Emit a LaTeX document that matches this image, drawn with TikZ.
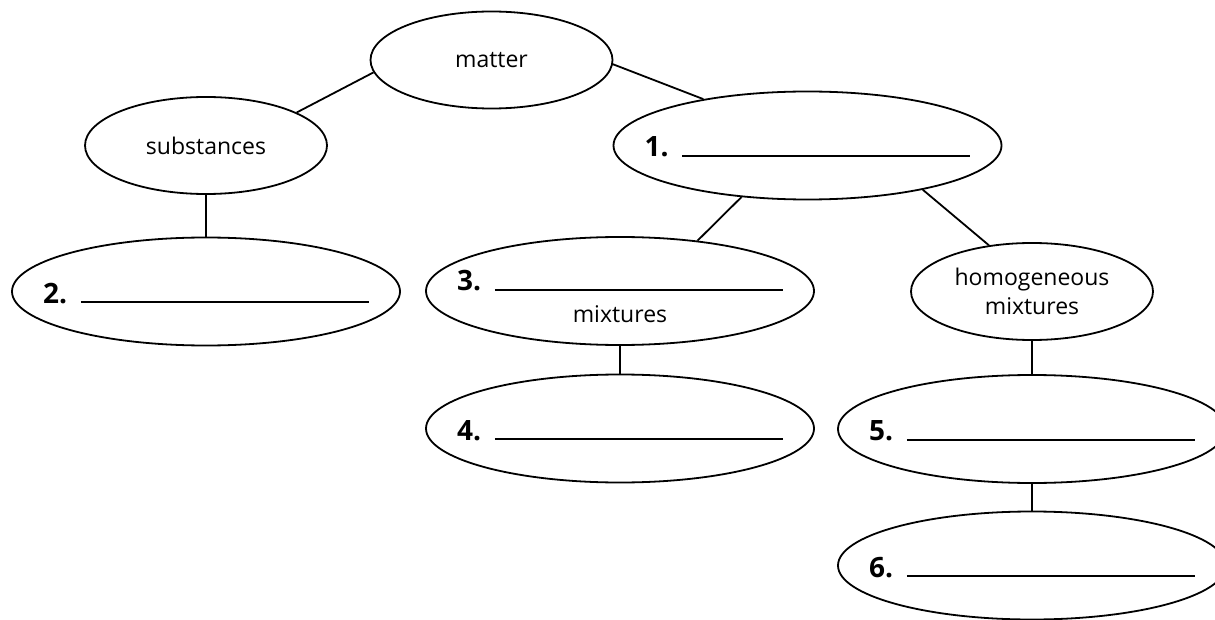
\documentclass[tikz,border=0pt]{standalone}
\usepackage{fontspec}
\setmainfont{Open Sans}
\usetikzlibrary{shapes.geometric}
\newcommand{\answerline}[1]{\makebox[0pt]{\textbf{\fontsize{14pt}{16pt}\selectfont #1}\hspace{7pt}\rule{144pt}{0.8pt}}}
\tikzset{
  smallbubble/.style={draw, ellipse, line width=0.9pt, inner sep=0pt, minimum width=121pt, minimum height=48.5pt, align=center},
  bigbubble/.style={draw, ellipse, line width=0.9pt, inner sep=0pt, minimum width=194pt, minimum height=54pt, text height=11.5pt, text depth=0pt},
  link/.style={line width=0.9pt}
}
\begin{document}
\begin{tikzpicture}[x=0.5pt,y=-0.5pt,font=\fontsize{11.5pt}{14.5pt}\selectfont]
\useasboundingbox (0,0) rectangle (1215,620);
\node (matter) [smallbubble] at (491.5,60) {matter};
\node (subst) [smallbubble] at (206,145.5) {substances};
\node (one) [bigbubble] at (807.5,145.5) {\answerline{1.}};
\node (two) [bigbubble] at (206,291.5) {\answerline{2.}};
\node (three) [bigbubble, text depth=11.5pt] at (620,291) {\answerline{3.}};
\node (mix) [anchor=base] at (620,322) {mixtures};
\node (homog) [smallbubble] at (1032,291.5) {homogeneous\\mixtures};
\node (four) [bigbubble] at (620,428.5) {\answerline{4.}};
\node (five) [bigbubble] at (1032,429) {\answerline{5.}};
\node (six) [bigbubble] at (1032,565.5) {\answerline{6.}};
\draw[link] (subst.20) -- (matter.186);
\draw[link] (matter.358) -- (one.156);
\draw[link] (subst.south) -- (two.north);
\draw[link] (one.218) -- (three.33);
\draw[link] (one.339) -- (homog.133);
\draw[link] (three.south) -- (four.north);
\draw[link] (homog.south) -- (five.north);
\draw[link] (five.south) -- (six.north);
\end{tikzpicture}
\end{document}
